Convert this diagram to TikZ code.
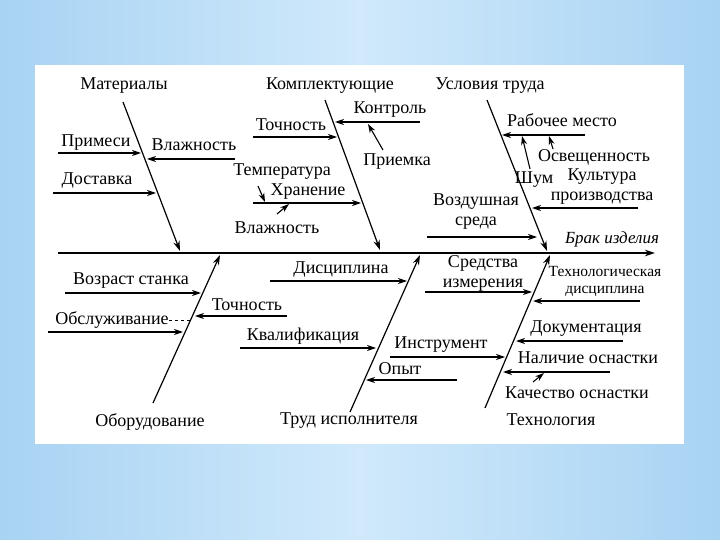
\documentclass[tikz,border=0pt]{standalone}
\usepackage{fontspec}
\setmainfont{Liberation Serif}
\usetikzlibrary{arrows.meta}
\definecolor{bgL}{RGB}{168,211,243}
\definecolor{bgM}{RGB}{208,233,251}
\begin{document}
\begin{tikzpicture}[x=1pt,y=-1pt,
 lbl/.style={font=\fontsize{18}{20}\selectfont, inner sep=0pt, align=center},
 arr/.style={-{Stealth[length=9pt,width=6pt]}, line width=1.1pt},
 bone/.style={-{Stealth[length=10pt,width=6.5pt]}, line width=1.2pt},
 leader/.style={dashed, line width=0.5pt}]
\useasboundingbox (0,0) rectangle (720,540);
\shade[left color=bgL, right color=bgL, middle color=bgM] (0,0) rectangle (720,540);
\fill[white] (35,65) rectangle (684,444);
% spine
\coordinate (s0) at (58,253); \coordinate (s1) at (655,253);
\draw[bone, line width=1.6pt] (s0) -- (s1);
\node[lbl, font=\fontsize{17}{19}\selectfont\itshape] (brak) at (612,239) {Брак изделия};
% Материалы
\node[lbl] (mat) at (124,86) {Материалы};
\coordinate (m0) at (123,102); \coordinate (m1) at (180,251);
\draw[bone] (m0) -- (m1);
\node[lbl] (prim) at (96,143) {Примеси};
\coordinate (prim0) at (58,153); \coordinate (prim1) at (141,153);
\draw[arr] (prim0) -- (prim1);
\node[lbl] (vl1) at (194,145) {Влажность};
\coordinate (vl10) at (235,159); \coordinate (vl11) at (147,159);
\draw[arr] (vl10) -- (vl11);
\node[lbl] (dost) at (97,181) {Доставка};
\coordinate (dost0) at (53,193); \coordinate (dost1) at (156,193);
\draw[arr] (dost0) -- (dost1);
% Комплектующие
\node[lbl] (kompl) at (330,86) {Комплектующие};
\coordinate (k0) at (325,100); \coordinate (k1) at (380,250);
\draw[bone] (k0) -- (k1);
\node[lbl] (toch1) at (291,125) {Точность};
\coordinate (toch10) at (253,137); \coordinate (toch11) at (337,137);
\draw[arr] (toch10) -- (toch11);
\node[lbl] (kontr) at (390,110) {Контроль};
\coordinate (kontr0) at (420,122); \coordinate (kontr1) at (335,122);
\draw[arr] (kontr0) -- (kontr1);
\node[lbl] (priem) at (397,162) {Приемка};
\coordinate (priem0) at (383,150); \coordinate (priem1) at (368,124);
\draw[arr] (priem0) -- (priem1);
\node[lbl] (hran) at (308,192) {Хранение};
\coordinate (hran0) at (253,203); \coordinate (hran1) at (361,203);
\draw[arr] (hran0) -- (hran1);
\node[lbl] (temp) at (282,172) {Температура};
\coordinate (temp0) at (258,186); \coordinate (temp1) at (265,202);
\draw[arr] (temp0) -- (temp1);
\node[lbl] (vl2) at (277,228) {Влажность};
\coordinate (vl20) at (277,214); \coordinate (vl21) at (289,204);
\draw[arr] (vl20) -- (vl21);
% Условия труда
\node[lbl] (usl) at (490,86) {Условия труда};
\coordinate (u0) at (487,100); \coordinate (u1) at (547,251);
\draw[bone] (u0) -- (u1);
\node[lbl] (rab) at (562,120) {Рабочее место};
\coordinate (rab0) at (585,135); \coordinate (rab1) at (502,135);
\draw[arr] (rab0) -- (rab1);
\node[lbl] (osv) at (594,157) {Освещенность};
\coordinate (osv0) at (553,149); \coordinate (osv1) at (549,136);
\draw[arr] (osv0) -- (osv1);
\node[lbl] (shum) at (534,180) {Шум};
\coordinate (shum0) at (530,169); \coordinate (shum1) at (522,136);
\draw[arr] (shum0) -- (shum1);
\node[lbl] (kult) at (602,187) {Культура\\производства};
\coordinate (kult0) at (638,208); \coordinate (kult1) at (532,208);
\draw[arr] (kult0) -- (kult1);
\node[lbl] (vozd) at (476,212) {Воздушная\\среда};
\coordinate (vozd0) at (427,237); \coordinate (vozd1) at (537,237);
\draw[arr] (vozd0) -- (vozd1);
% Оборудование
\node[lbl] (obor) at (150,422) {Оборудование};
\coordinate (o0) at (153,403); \coordinate (o1) at (220,255);
\draw[bone] (o0) -- (o1);
\node[lbl] (vozr) at (131,281) {Возраст станка};
\coordinate (vozr0) at (65,293); \coordinate (vozr1) at (201,293);
\draw[arr] (vozr0) -- (vozr1);
\node[lbl] (toch2) at (247,305) {Точность};
\coordinate (toch20) at (287,316); \coordinate (toch21) at (195,316);
\draw[arr] (toch20) -- (toch21);
\node[lbl] (obsl) at (112,320) {Обслуживание};
\coordinate (obsl0) at (48,332); \coordinate (obsl1) at (183,332);
\draw[arr] (obsl0) -- (obsl1);
\coordinate (lead1) at (191,320);
\draw[leader] (obsl.east) -- (lead1);
% Труд исполнителя
\node[lbl] (trud) at (349,421) {Труд исполнителя};
\coordinate (t0) at (350,412); \coordinate (t1) at (420,255);
\draw[bone] (t0) -- (t1);
\node[lbl] (disc) at (341,270) {Дисциплина};
\coordinate (disc0) at (270,281); \coordinate (disc1) at (407,281);
\draw[arr] (disc0) -- (disc1);
\node[lbl] (kval) at (303,336) {Квалификация};
\coordinate (kval0) at (240,348); \coordinate (kval1) at (376,348);
\draw[arr] (kval0) -- (kval1);
\node[lbl] (opyt) at (400,369) {Опыт};
\coordinate (opyt0) at (457,380); \coordinate (opyt1) at (366,380);
\draw[arr] (opyt0) -- (opyt1);
% Технология
\node[lbl] (tehn) at (551,420) {Технология};
\coordinate (h0) at (485,408); \coordinate (h1) at (550,255);
\draw[bone] (h0) -- (h1);
\node[lbl] (sred) at (483,273) {Средства\\измерения};
\coordinate (sred0) at (425,292); \coordinate (sred1) at (532,292);
\draw[arr] (sred0) -- (sred1);
\node[lbl, font=\fontsize{15.5}{17}\selectfont] (tdisc) at (605,281) {Технологическая\\дисциплина};
\coordinate (tdisc0) at (640,301); \coordinate (tdisc1) at (533,301);
\draw[arr] (tdisc0) -- (tdisc1);
\node[lbl] (dok) at (586,329) {Документация};
\coordinate (dok0) at (623,341); \coordinate (dok1) at (516,341);
\draw[arr] (dok0) -- (dok1);
\node[lbl] (instr) at (441,345) {Инструмент};
\coordinate (instr0) at (390,357); \coordinate (instr1) at (505,357);
\draw[arr] (instr0) -- (instr1);
\node[lbl] (nal) at (588,358) {Наличие оснастки};
\coordinate (nal0) at (610,372); \coordinate (nal1) at (503,372);
\draw[arr] (nal0) -- (nal1);
\node[lbl] (kach) at (577,393) {Качество оснастки};
\coordinate (kach0) at (533,382); \coordinate (kach1) at (544,373);
\draw[arr] (kach0) -- (kach1);
\end{tikzpicture}
\end{document}
